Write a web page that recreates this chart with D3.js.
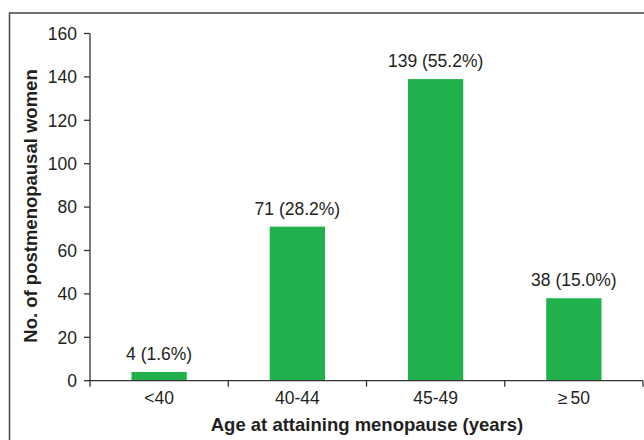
<!DOCTYPE html>
<html><head><meta charset="utf-8">
<script src="https://cdn.jsdelivr.net/npm/d3@7"></script>
<style>body{margin:0;background:#fff}svg{display:block}</style>
</head><body>
<script>
const categories = ["<40", "40-44", "45-49", "\u226550"];
const counts = [4, 71, 139, 38];
const percents = ["1.6%", "28.2%", "55.2%", "15.0%"];
const yTicks = [0, 20, 40, 60, 80, 100, 120, 140, 160];

const W = 644, H = 440;
const svg = d3.select("body").append("svg").attr("width", W).attr("height", H);
const font = "'Liberation Sans', Arial, Helvetica, sans-serif";
const ink = "#231f20";

// frame
svg.append("rect").attr("x", 9.5).attr("y", 13).attr("width", W + 20).attr("height", H + 20)
  .attr("fill", "none").attr("stroke", "#444").attr("stroke-width", 1.5);

const x = d3.scaleBand().domain(categories).range([90, 643]).paddingInner(0.6).paddingOuter(0.3);
const y = d3.scaleLinear().domain([0, 160]).range([380.7, 33.5]);

const g = svg.append("g");
g.selectAll("rect.bar").data(counts).join("rect").attr("class", "bar")
  .attr("x", (d, i) => x(categories[i])).attr("width", x.bandwidth())
  .attr("y", d => y(d)).attr("height", d => y(0) - y(d)).attr("fill", "#21b14c");

g.selectAll("text.lbl").data(counts).join("text").attr("class", "lbl")
  .attr("x", (d, i) => x(categories[i]) + x.bandwidth() / 2)
  .attr("y", d => y(d) - 12).attr("text-anchor", "middle")
  .style("font-family", font).style("font-size", "17.5px").attr("fill", ink)
  .text((d, i) => `${d} (${percents[i]})`);

// y axis (drawn from the scale)
const ya = svg.append("g");
ya.append("line").attr("x1", 90).attr("x2", 90).attr("y1", y(160)).attr("y2", y(0))
  .attr("stroke", "#333").attr("stroke-width", 1.3);
ya.selectAll("line.t").data(yTicks).join("line").attr("class", "t")
  .attr("x1", 84).attr("x2", 90).attr("y1", d => y(d)).attr("y2", d => y(d))
  .attr("stroke", "#333").attr("stroke-width", 1.3);
ya.selectAll("text").data(yTicks).join("text")
  .attr("x", 77).attr("y", d => y(d)).attr("dy", "0.36em").attr("text-anchor", "end")
  .style("font-family", font).style("font-size", "17.5px").attr("fill", ink).text(d => d);

// x axis with boundary ticks
const xa = svg.append("g").attr("transform", `translate(0,${y(0)})`);
xa.append("line").attr("x1", 90).attr("x2", 643).attr("stroke", "#333").attr("stroke-width", 1.3);
const bounds = [90].concat(categories.map(c => x(c) + x.bandwidth() / 2 + x.step() / 2));
xa.selectAll("line.t").data(bounds).join("line").attr("class", "t")
  .attr("x1", d => d).attr("x2", d => d).attr("y1", 0).attr("y2", 6)
  .attr("stroke", "#333").attr("stroke-width", 1.3);
const xt = xa.selectAll("text").data(categories).join("text")
  .attr("x", d => x(d) + x.bandwidth() / 2).attr("y", 23).attr("text-anchor", "middle")
  .style("font-family", font).style("font-size", "17.5px").attr("fill", ink);
xt.each(function(d) {
  const t = d3.select(this);
  if (d.startsWith("\u2265")) {
    t.append("tspan").text("\u2265");
    t.append("tspan").attr("dx", 3).text(d.slice(1));
  } else t.text(d);
});

svg.append("text").attr("x", 367).attr("y", 431).attr("text-anchor", "middle")
  .style("font-family", font).style("font-size", "18.5px").style("font-weight", "bold").attr("fill", ink)
  .text("Age at attaining menopause (years)");
svg.append("text").attr("transform", "translate(37,206) rotate(-90)").attr("text-anchor", "middle")
  .style("font-family", font).style("font-size", "18.5px").style("font-weight", "bold").attr("fill", ink)
  .text("No. of postmenopausal women");
</script>
</body></html>
